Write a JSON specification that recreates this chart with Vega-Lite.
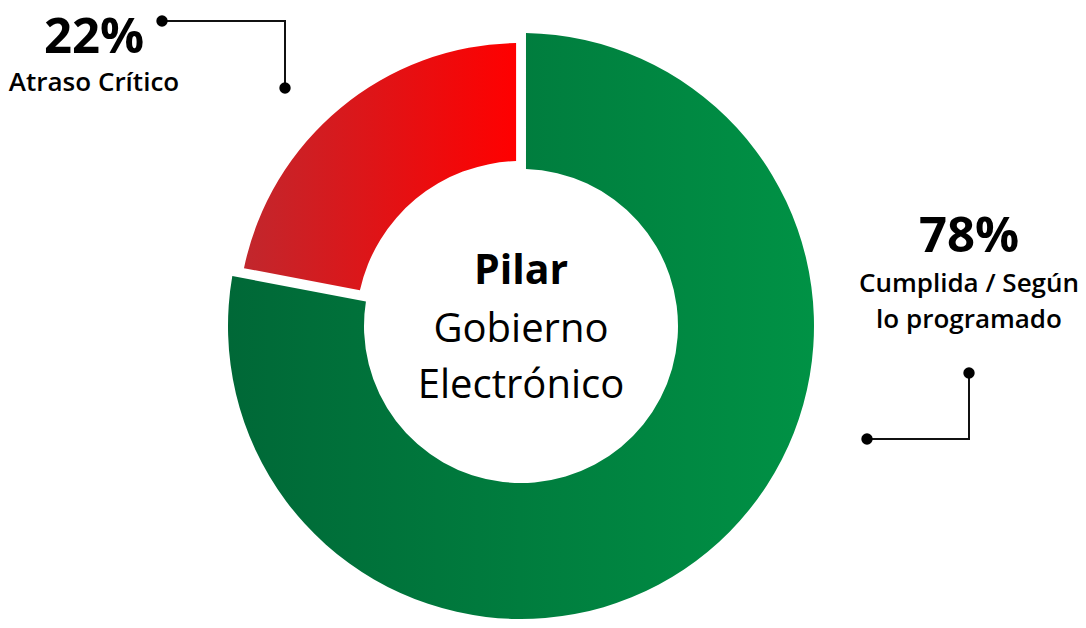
{
  "$schema": "https://vega.github.io/schema/vega-lite/v6.json",
  "width": 1042,
  "height": 604,
  "autosize": "none",
  "padding": {"left": 0, "top": 24, "right": 44, "bottom": 0},
  "background": "white",
  "config": {"view": {"stroke": null}},
  "layer": [
    {
      "data": {"values": [
        {"estado": "Cumplida / Según lo programado", "pct": 78},
        {"estado": "Atraso Crítico", "pct": 22}
      ]},
      "transform": [{"stack": "pct", "groupby": [], "as": ["p0", "p1"]}],
      "layer": [
        {
          "transform": [{"filter": "datum.estado === 'Cumplida / Según lo programado'"}],
          "mark": {"type": "arc", "radius": 293, "radius2": 157, "padAngle": 0.03,
            "fill": {"gradient": "linear", "x1": 0, "x2": 1, "y1": 0, "y2": 0,
              "stops": [{"offset": 0, "color": "#006837"}, {"offset": 1, "color": "#009245"}]}},
          "encoding": {
            "theta": {"field": "p0", "type": "quantitative", "scale": {"domain": [0, 100]}},
            "theta2": {"field": "p1"}
          }
        },
        {
          "transform": [{"filter": "datum.estado === 'Atraso Crítico'"}],
          "mark": {"type": "arc", "radius": 283, "radius2": 165, "padAngle": 0.03,
            "fill": {"gradient": "linear", "x1": 0, "x2": 1, "y1": 0, "y2": 0,
              "stops": [{"offset": 0, "color": "#c1272d"}, {"offset": 1, "color": "#ff0000"}]}},
          "encoding": {
            "theta": {"field": "p0", "type": "quantitative", "scale": {"domain": [0, 100]}},
            "theta2": {"field": "p1"}
          }
        }
      ]
    },
    {
      "data": {"values": [
        {"id": "a", "ord": 1, "x": 162, "y": 21},
        {"id": "a", "ord": 2, "x": 285, "y": 21},
        {"id": "a", "ord": 3, "x": 285, "y": 88},
        {"id": "b", "ord": 1, "x": 969, "y": 373},
        {"id": "b", "ord": 2, "x": 969, "y": 439},
        {"id": "b", "ord": 3, "x": 867, "y": 439}
      ]},
      "layer": [
        {
          "mark": {"type": "line", "color": "#111111", "strokeWidth": 2},
          "encoding": {
            "x": {"field": "x", "type": "quantitative", "scale": {"domain": [0, 1042], "nice": false, "zero": false}, "axis": null},
            "y": {"field": "y", "type": "quantitative", "scale": {"domain": [24, 628], "nice": false, "zero": false, "reverse": true}, "axis": null},
            "detail": {"field": "id"},
            "order": {"field": "ord"}
          }
        },
        {
          "transform": [{"filter": "datum.ord !== 2"}],
          "mark": {"type": "circle", "color": "#000000", "opacity": 1, "size": 130},
          "encoding": {
            "x": {"field": "x", "type": "quantitative"},
            "y": {"field": "y", "type": "quantitative"}
          }
        }
      ]
    },
    {
      "data": {"values": [
        {"t": "22%", "x": 94, "y": 53},
        {"t": "78%", "x": 969, "y": 252}
      ]},
      "mark": {"type": "text", "font": "Open Sans", "fontWeight": "bold", "fontSize": 49, "color": "#000000", "align": "center", "baseline": "alphabetic"},
      "encoding": {
        "x": {"field": "x", "type": "quantitative"},
        "y": {"field": "y", "type": "quantitative"},
        "text": {"field": "t"}
      }
    },
    {
      "data": {"values": [
        {"t": "Atraso Crítico", "x": 94, "y": 91},
        {"t": "Cumplida / Según", "x": 969, "y": 292},
        {"t": "lo programado", "x": 969, "y": 328}
      ]},
      "mark": {"type": "text", "font": "Open Sans", "fontWeight": 600, "fontSize": 26, "color": "#000000", "align": "center", "baseline": "alphabetic"},
      "encoding": {
        "x": {"field": "x", "type": "quantitative"},
        "y": {"field": "y", "type": "quantitative"},
        "text": {"field": "t"}
      }
    },
    {
      "data": {"values": [
        {"t": "Pilar", "x": 521, "y": 284}
      ]},
      "mark": {"type": "text", "font": "Open Sans", "fontWeight": "bold", "fontSize": 41, "color": "#000000", "align": "center", "baseline": "alphabetic"},
      "encoding": {
        "x": {"field": "x", "type": "quantitative"},
        "y": {"field": "y", "type": "quantitative"},
        "text": {"field": "t"}
      }
    },
    {
      "data": {"values": [
        {"t": "Gobierno", "x": 521, "y": 342},
        {"t": "Electrónico", "x": 521, "y": 398}
      ]},
      "mark": {"type": "text", "font": "Open Sans", "fontWeight": "normal", "fontSize": 40, "color": "#000000", "align": "center", "baseline": "alphabetic"},
      "encoding": {
        "x": {"field": "x", "type": "quantitative"},
        "y": {"field": "y", "type": "quantitative"},
        "text": {"field": "t"}
      }
    }
  ]
}
